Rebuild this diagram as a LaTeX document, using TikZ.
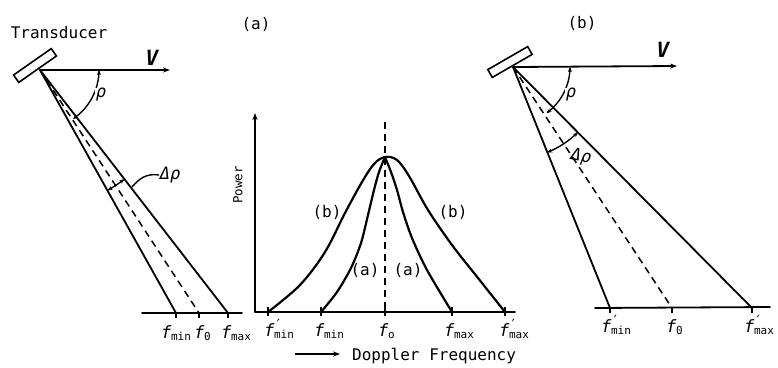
\documentclass[tikz,border=0pt]{standalone}
\usepackage{fontspec}
\setmainfont{DejaVu Sans Mono}
\usetikzlibrary{arrows.meta,calc}
\newcommand\fq[2]{{\fontsize{17}{17}\selectfont\textit{f}}\kern-0.5pt\makebox[0pt][l]{\raisebox{7pt}{\fontsize{14}{14}\selectfont #1}}\raisebox{-2pt}{\fontsize{11}{11}\selectfont #2}}
\tikzset{
  ln/.style={line width=1.8pt, line cap=round},
  crv/.style={line width=2.2pt, line cap=round},
  dsh/.style={line width=1.5pt, dash pattern=on 7pt off 5pt},
  txt/.style={font=\fontsize{16}{16}\selectfont, inner sep=0pt},
  flab/.style={inner sep=0pt, anchor=base west},
  vlab/.style={font=\fontsize{21}{21}\selectfont\bfseries\itshape, inner sep=0pt},
  glab/.style={font=\fontsize{17}{17}\selectfont\itshape, inner sep=0.5pt},
  tip/.style={-{Stealth[length=7pt,width=5pt]}},
  sm/.style={{Stealth[length=5pt,width=4pt]}-{Stealth[length=5pt,width=4pt]}},
  tduc/.style={draw, line width=1.6pt, inner sep=0pt, minimum height=9pt, minimum width=46pt}
}
\begin{document}
\begin{tikzpicture}[x=1pt,y=-1pt]
\useasboundingbox (0,0) rectangle (778,367);

% ---------- left panel (a) ----------
\node[txt] (trl) at (59,33) {Transducer};
\node[tduc, rotate=35] (T1) at (35,65.5) {};
\coordinate (A1) at (40,70);
\coordinate (V1) at (170,70);
\draw[ln, tip] (A1) -- (V1);
\node[vlab] (Vl1) at (152,58) {V};
\coordinate (L1) at (176,313);
\coordinate (D1) at (199,313);
\coordinate (R1) at (228,313);
\coordinate (B1a) at (142,313);
\coordinate (B1b) at (242,313);
\draw[ln] (A1) -- (L1);
\draw[ln] (A1) -- (R1);
\draw[dsh] (A1) -- (D1);
\draw[ln] (B1a) -- (B1b);
\foreach \c in {L1,D1,R1} \draw[line width=1.3pt] (\c) -- ($(\c)+(0,5)$);
\draw[line width=1.4pt, sm] plot[domain=0:56, samples=40] ({40+59*cos(\x)},{70+59*sin(\x)});
\node[glab, fill=white] (rho1) at (101,95) {ρ};
\draw[line width=1.4pt, sm] plot[domain=52.3:60.7, samples=20] ({40+138*cos(\x)},{70+138*sin(\x)});
\coordinate (ld1) at (132,187);
\node[glab] (drho1) at (170,175) {Δρ};
\draw[line width=1.4pt] (ld1) .. controls (139,179) and (146,173) .. (drho1.west);
\node[flab] (fmin1) at (161,338) {\fq{}{min}};
\node[flab] (fo1) at (194,338) {\fq{}{0}};
\node[flab] (fmax1) at (221,338) {\fq{}{max}};

% ---------- middle panel ----------
\node[txt] (ta) at (256,24) {(a)};
\coordinate (O) at (255,312);
\coordinate (Ytop) at (255,113);
\coordinate (Xend) at (515,312);
\draw[ln, tip] (O) -- (Ytop);
\draw[ln] (O) -- (Xend);
\node[font=\fontsize{12.5}{12.5}\selectfont, inner sep=0pt, rotate=90] (pow) at (238,185) {Power};
\coordinate (P) at (385,157);
\coordinate (Dtop) at (385,122);
\coordinate (Dbot) at (385,312);
\draw[dsh] (Dtop) -- (Dbot);
\coordinate (m1) at (268,312);
\coordinate (m2) at (321,312);
\coordinate (m3) at (385,312);
\coordinate (m4) at (452,312);
\coordinate (m5) at (505,312);
\foreach \c in {m1,m2,m3,m4,m5} \draw[line width=1.3pt] ($(\c)+(0,-5)$) -- ($(\c)+(0,4)$);
\draw[crv] plot[smooth, tension=0.55] coordinates {(268,312) (300,285) (325,252) (345,213) (362,182) (374,164) (385,157) (397,160) (409,176) (428,210) (452,245) (478,278) (505,312)};
\draw[crv] plot[smooth, tension=0.5] coordinates {(321,312) (337,292) (351,268) (361,243) (368,215) (374,190) (379,172) (385,157)};
\draw[crv] plot[smooth, tension=0.5] coordinates {(385,157) (391,172) (397,190) (403,212) (412,238) (427,270) (452,312)};
\node[txt] (bl) at (327,212) {(b)};
\node[txt] (br) at (453,212) {(b)};
\node[txt] (al) at (365,270) {(a)};
\node[txt] (ar) at (408,270) {(a)};
\node[flab] (fpmin) at (264,336) {\fq{′}{min}};
\node[flab] (fmin) at (314,336) {\fq{}{min}};
\node[flab] (fo) at (378,336) {\fq{}{o}};
\node[flab] (fmax) at (444,336) {\fq{}{max}};
\node[flab] (fpmax) at (499,336) {\fq{′}{max}};
\coordinate (ds) at (295,354);
\node[txt, anchor=base west] (dop) at (352,360) {Doppler Frequency};
\draw[line width=1.3pt, tip] (ds) -- (340,354);

% ---------- right panel (b) ----------
\node[txt] (tb) at (582,23) {(b)};
\node[tduc, rotate=30] (T2) at (510,62) {};
\coordinate (A2) at (513,67);
\coordinate (V2) at (677,66);
\draw[ln, tip] (A2) -- (V2);
\node[vlab] (Vl2) at (663,50) {V};
\coordinate (L2) at (610,308);
\coordinate (D2) at (672,308);
\coordinate (R2) at (752,308);
\coordinate (B2a) at (595,308);
\coordinate (B2b) at (770,307);
\draw[ln] (A2) -- (L2);
\draw[ln] (A2) -- (R2);
\draw[dsh] (A2) -- (D2);
\draw[ln] (B2a) -- (B2b);
\foreach \c in {L2,D2,R2} \draw[line width=1.3pt] (\c) -- ($(\c)+(0,5)$);
\draw[line width=1.4pt, sm] plot[domain=0:54, samples=40] ({513+57*cos(\x)},{67+57*sin(\x)});
\node[glab, fill=white] (rho2) at (571,95) {ρ};
\draw[line width=1.4pt, sm] plot[domain=45.2:68.1, samples=30] ({513+92*cos(\x)},{67+92*sin(\x)});
\node[glab, rotate=-10] (drho2) at (581,157) {Δρ};
\node[flab] (fpmin2) at (601,332) {\fq{′}{min}};
\node[flab] (fo2) at (666,332) {\fq{}{0}};
\node[flab] (fpmax2) at (744,332) {\fq{′}{max}};
\end{tikzpicture}
\end{document}
